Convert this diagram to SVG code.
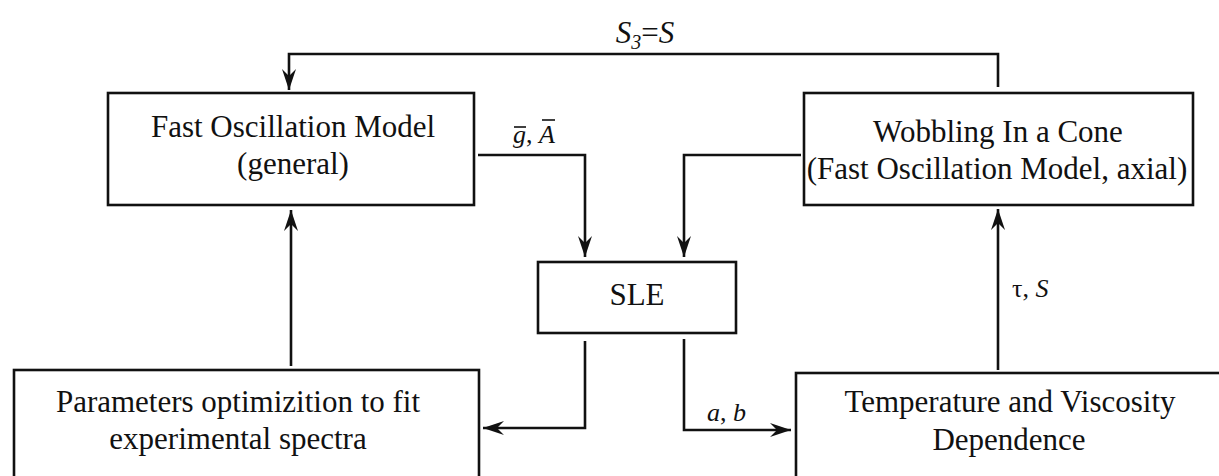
<svg xmlns="http://www.w3.org/2000/svg" width="1219" height="476" viewBox="0 0 1219 476">
<style>
.box{fill:#fff;stroke:#111;stroke-width:2.6}
.lbl{font-size:31px;fill:#111;text-anchor:middle}
.ed{fill:none;stroke:#111;stroke-width:2.6;stroke-linejoin:miter}
.el{font-size:26px;fill:#111}
.it{font-style:italic}
.bar{stroke:#111;stroke-width:1.6}
</style>
<defs>
<marker id="ah" markerUnits="userSpaceOnUse" markerWidth="24" markerHeight="18" viewBox="-22 -8 24 16" refX="0" refY="0" orient="auto">
<path d="M0,0 L-21,-7 L-14,0 L-21,7 Z" fill="#111"/>
</marker>
</defs>
<rect width="1219" height="476" fill="#fff"/>
<g font-family="Liberation Serif, Times New Roman, DejaVu Serif, serif">
<g id="n-fom">
<rect class="box" x="108" y="93" width="366" height="112"/>
<text class="lbl" x="293" y="137">Fast Oscillation Model</text>
<text class="lbl" x="293" y="174">(general)</text>
</g>
<g id="n-wic">
<rect class="box" x="804" y="93" width="389" height="112"/>
<text class="lbl" x="998" y="142">Wobbling In a Cone</text>
<text class="lbl" x="997" y="179">(Fast Oscillation Model, axial)</text>
</g>
<g id="n-sle">
<rect class="box" x="538" y="262" width="198" height="71"/>
<text class="lbl" x="637" y="305">SLE</text>
</g>
<g id="n-par">
<rect class="box" x="14" y="370" width="465" height="130"/>
<text class="lbl" x="238" y="412">Parameters optimizition to fit</text>
<text class="lbl" x="238" y="449">experimental spectra</text>
</g>
<g id="n-tvd">
<rect class="box" x="796" y="373" width="440" height="130"/>
<text class="lbl" x="1010" y="412">Temperature and Viscosity</text>
<text class="lbl" x="1009" y="450">Dependence</text>
</g>
<g id="connectors">
<path class="ed" d="M998,87 V54 H289 V90" marker-end="url(#ah)"/>
<path class="ed" d="M478,155 H585 V257" marker-end="url(#ah)"/>
<path class="ed" d="M801,155 H684 V257" marker-end="url(#ah)"/>
<path class="ed" d="M585,341 V428 H483" marker-end="url(#ah)"/>
<path class="ed" d="M684,339 V430 H791" marker-end="url(#ah)"/>
<path class="ed" d="M998,370 V209" marker-end="url(#ah)"/>
<path class="ed" d="M291,366 V210" marker-end="url(#ah)"/>
</g>
<g id="edge-labels">
<text class="lbl" x="645" y="43"><tspan class="it">S</tspan><tspan class="it" font-size="20" dy="6">3</tspan><tspan dy="-6">=</tspan><tspan class="it">S</tspan></text>
<text class="el" x="513" y="143"><tspan class="it">g</tspan>, <tspan class="it">A</tspan></text>
<line class="bar" x1="514" y1="127" x2="526" y2="127"/>
<line class="bar" x1="542" y1="120" x2="555" y2="120"/>
<text class="el" x="707" y="421"><tspan class="it">a</tspan>, <tspan class="it">b</tspan></text>
<text class="el" x="1012" y="297">τ, <tspan class="it">S</tspan></text>
</g>
</g>
</svg>
